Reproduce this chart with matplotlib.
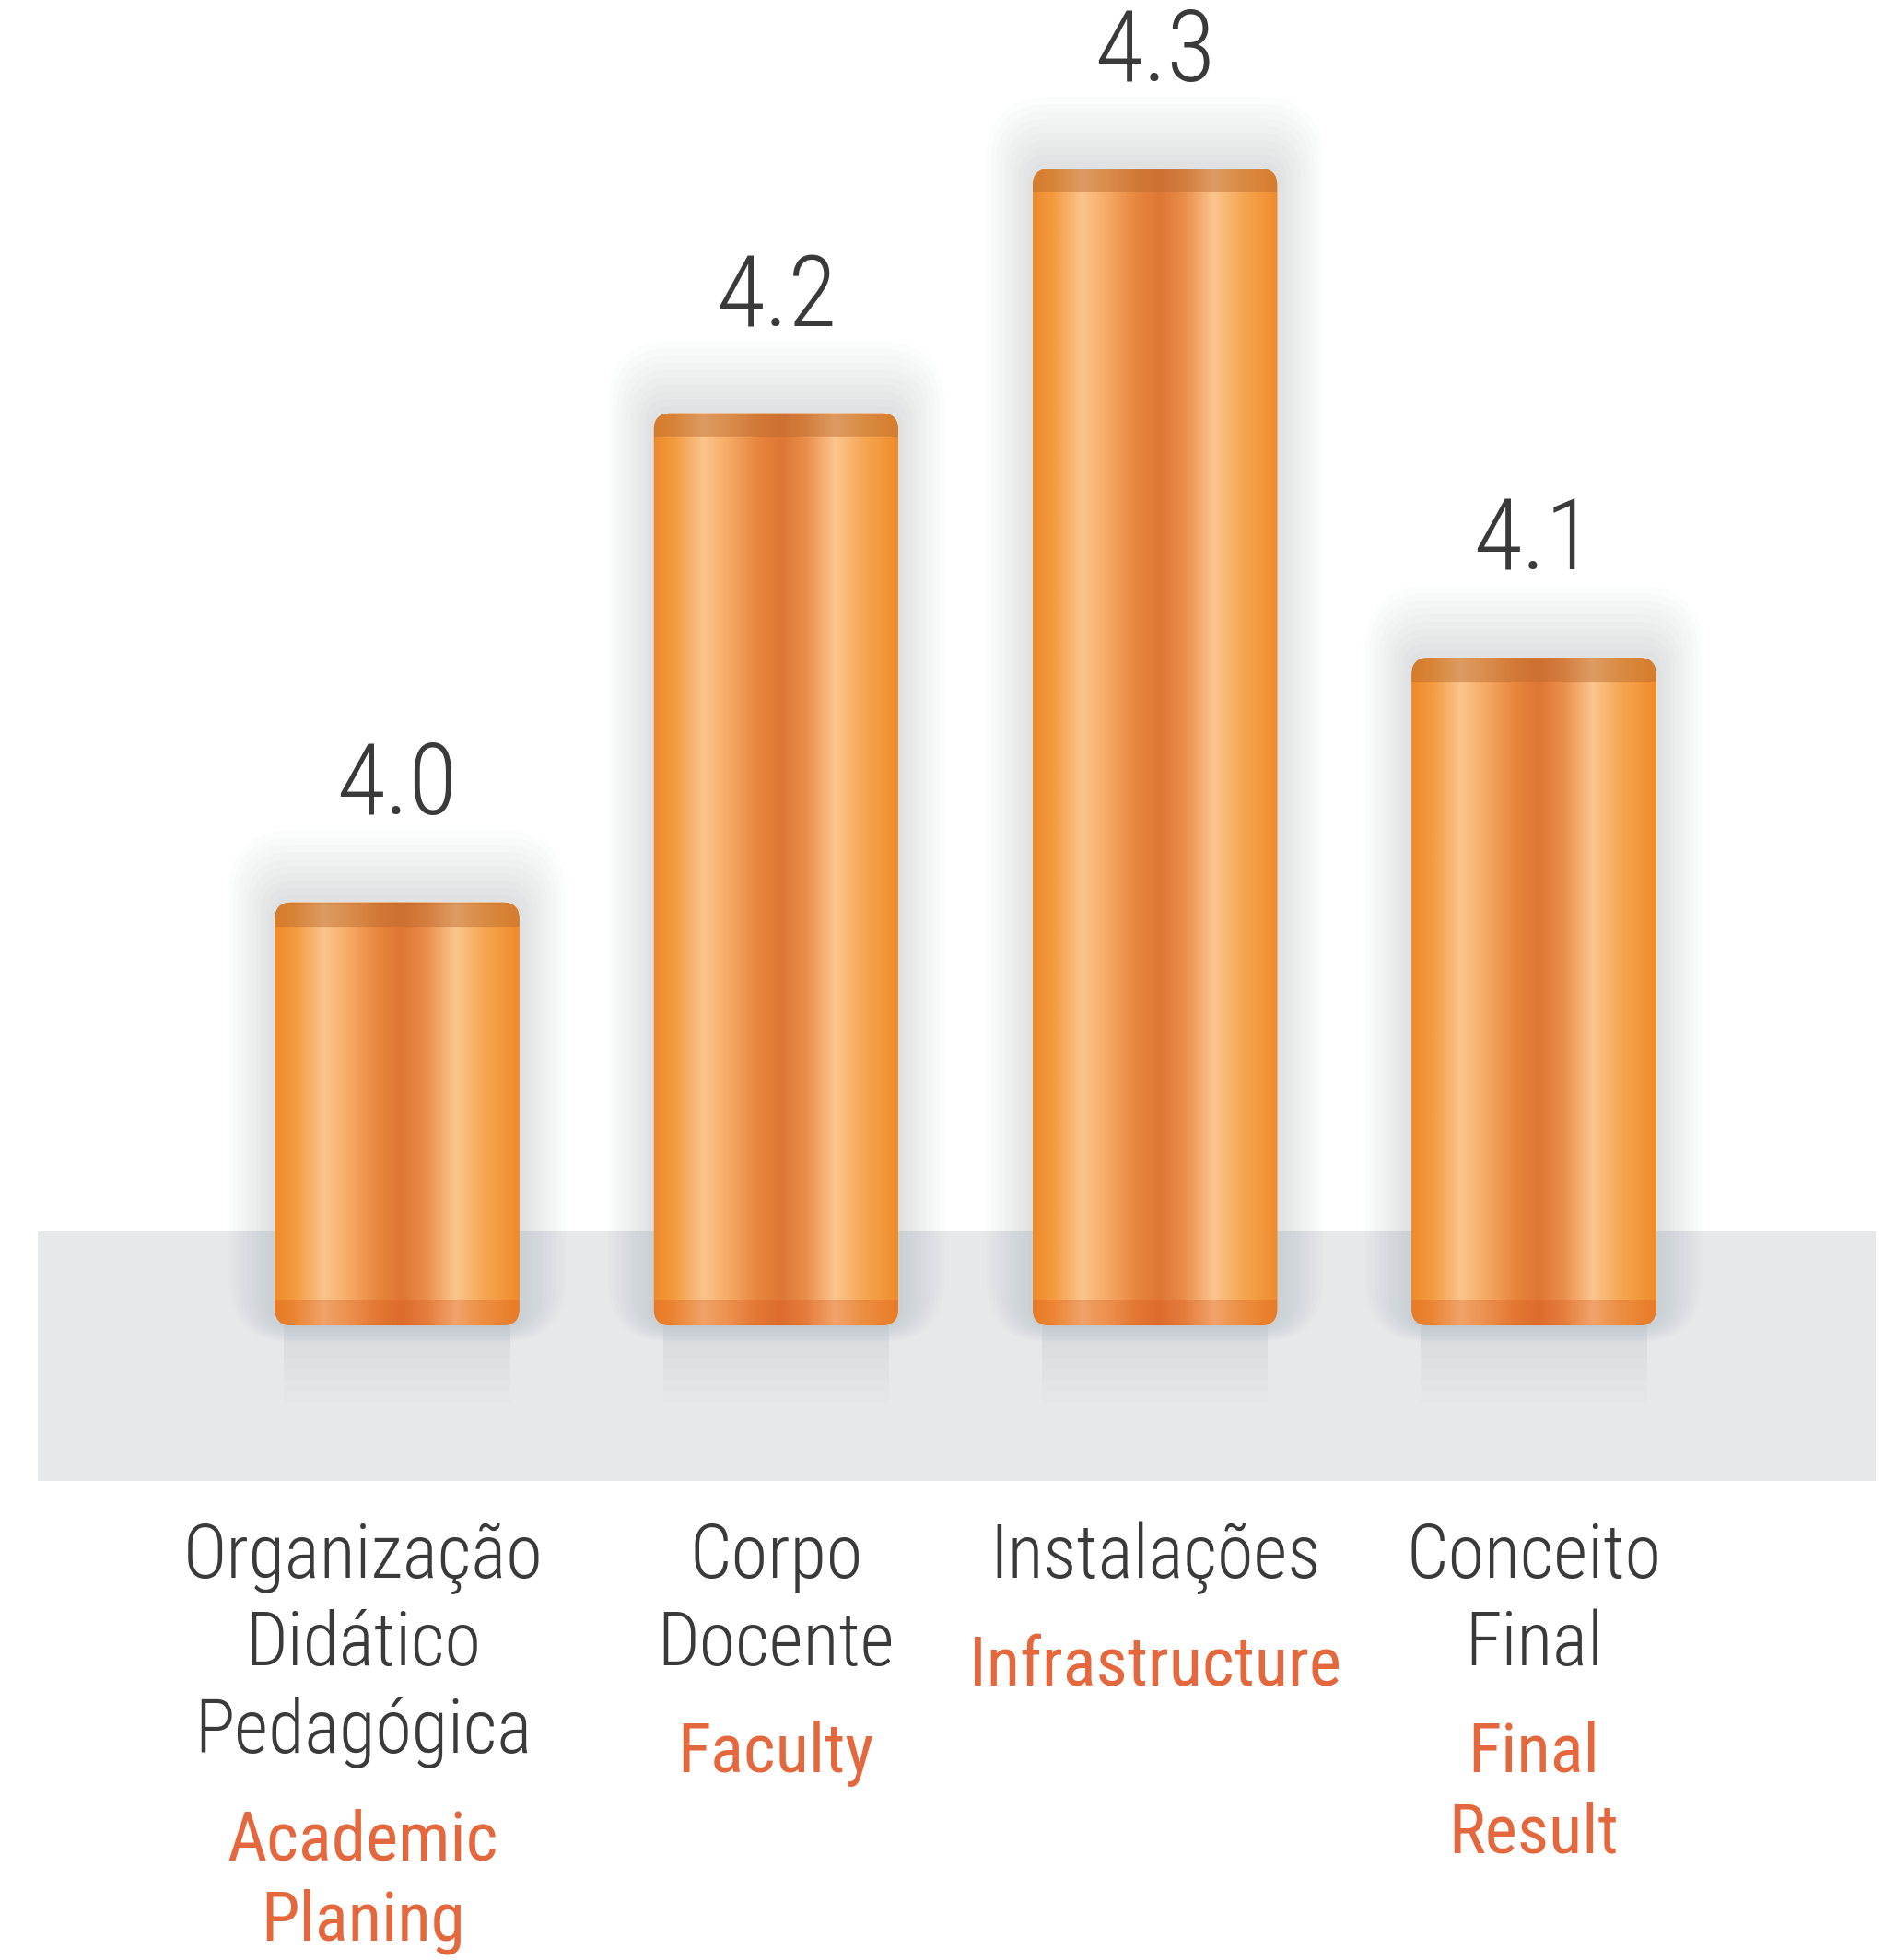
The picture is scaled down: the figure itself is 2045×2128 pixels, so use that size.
import numpy as np
import matplotlib.pyplot as plt
import matplotlib.transforms as mtransforms
from matplotlib import font_manager
from matplotlib.colors import LinearSegmentedColormap
from matplotlib.patches import Rectangle, FancyBboxPatch


def pick_font(cands):
    for name in cands:
        try:
            font_manager.findfont(font_manager.FontProperties(family=name),
                                  fallback_to_default=False)
            return name
        except ValueError:
            pass
    return 'DejaVu Sans'


narrow = pick_font(['Roboto Condensed', 'Archivo Narrow', 'PT Sans Narrow',
                    'Liberation Sans Narrow', 'Sofia Sans Condensed', 'Asap Condensed', 'Roboto'])
plt.rcParams['font.family'] = [narrow, 'DejaVu Sans']

# data
scores = [4.0, 4.2, 4.3, 4.1]
score_labels = ['4.0', '4.2', '4.3', '4.1']
names_pt = ['Organização\nDidático\nPedagógica', 'Corpo\nDocente', 'Instalações', 'Conceito\nFinal']
names_en = ['Academic\nPlaning', 'Faculty', 'Infrastructure', 'Final\nResult']

# layout / style
W, H = 2045, 2128
base = 3.827          # floor value where the cylinders stand
bar_w = 0.645
label_dx = [-0.09, 0, 0, 0]
dark_txt = '#3a3a3a'
orange_txt = '#e4683e'

cyl = LinearSegmentedColormap.from_list('cyl', [
    (0.00, '#ee8a2c'), (0.08, '#f39a3e'), (0.20, '#fbc48c'), (0.30, '#f6ab66'),
    (0.42, '#e8863e'), (0.52, '#df7634'), (0.62, '#ea8e4a'), (0.74, '#fcc58e'),
    (0.86, '#f5a651'), (1.00, '#ef8b2a')])

fig = plt.figure(figsize=(W / 100, H / 100), dpi=100)
ax = fig.add_axes([0, 0, 1, 1])
ax.axis('off')

xlim = (-1.048, 3.924)
ylim = (3.5675, 4.369)
px_x = W / (xlim[1] - xlim[0])
px_y = H / (ylim[1] - ylim[0])

# grey floor band
band = Rectangle((41 / W, 1 - 1608 / H), (2036 - 41) / W, (1608 - 1337) / H,
                 transform=fig.transFigure, facecolor='#e6e8ea',
                 edgecolor='none', zorder=0)
ax.add_patch(band)

x = np.arange(len(scores))
heights = np.array(scores) - base
bars = ax.bar(x, heights, bottom=base, width=bar_w, color='none', edgecolor='none', zorder=3)

rad = 18
aspect = px_x / px_y
for i, b in enumerate(bars):
    x0, y0 = b.get_x(), b.get_y()
    w, h = b.get_width(), b.get_height()

    # soft halo around the cylinder, a bit stronger above the top
    for k in range(1, 11):
        gx = k * 5 / px_x
        gy = k * 6 / px_y
        halo = FancyBboxPatch((x0 - gx, y0 - gy * 0.3), w + 2 * gx, h + gy * 1.6,
                              boxstyle='round,pad=0,rounding_size=%f' % ((rad + k * 5) / px_x),
                              mutation_aspect=aspect, facecolor='#7c8794',
                              edgecolor='none', alpha=0.024, zorder=1)
        ax.add_patch(halo)

    # shadow on the floor
    for k in range(1, 8):
        sh = Rectangle((x0 + 10 / px_x, y0 - k * 12 / px_y), w - 20 / px_x, k * 12 / px_y,
                       facecolor='#a4acb5', edgecolor='none', alpha=0.022, zorder=1)
        ax.add_patch(sh)

    body = FancyBboxPatch((x0, y0), w, h,
                          boxstyle='round,pad=0,rounding_size=%f' % (rad / px_x),
                          mutation_aspect=aspect, facecolor='#ef8a30',
                          edgecolor='none', zorder=2)
    ax.add_patch(body)
    grad = np.linspace(0, 1, 256).reshape(1, -1)
    im = ax.imshow(grad, cmap=cyl, extent=[x0, x0 + w, y0, y0 + h],
                   aspect='auto', interpolation='bicubic', zorder=3)
    im.set_clip_path(body)

    # top cap
    cap = Rectangle((x0, y0 + h - 26 / px_y), w, 26 / px_y, facecolor='#b86a30',
                    edgecolor='none', alpha=0.45, zorder=4)
    ax.add_patch(cap)
    cap.set_clip_path(body)

    # bottom band
    bot = Rectangle((x0, y0), w, 28 / px_y, facecolor='#d9561c',
                    edgecolor='none', alpha=0.3, zorder=4)
    ax.add_patch(bot)
    bot.set_clip_path(body)

    # value label
    ax.annotate(score_labels[i], (x[i], scores[i]), xytext=(0, 90),
                textcoords='offset points', ha='center', va='center',
                fontsize=78, fontweight='light', color=dark_txt, zorder=5)

ax.set_xlim(*xlim)
ax.set_ylim(*ylim)

# category labels below the floor
trans = mtransforms.blended_transform_factory(ax.transData, fig.transFigure)
for i in range(len(scores)):
    cx = x[i] + label_dx[i]
    y = 1713
    for line in names_pt[i].split('\n'):
        ax.text(cx, 1 - y / H, line, transform=trans, ha='center', va='baseline',
                fontsize=58, fontweight='light', color=dark_txt)
        y += 95
    y += 21
    for line in names_en[i].split('\n'):
        ax.text(cx, 1 - y / H, line, transform=trans, ha='center', va='baseline',
                fontsize=54, color=orange_txt)
        y += 88

fig.savefig('out.png', dpi=100, facecolor='white')
